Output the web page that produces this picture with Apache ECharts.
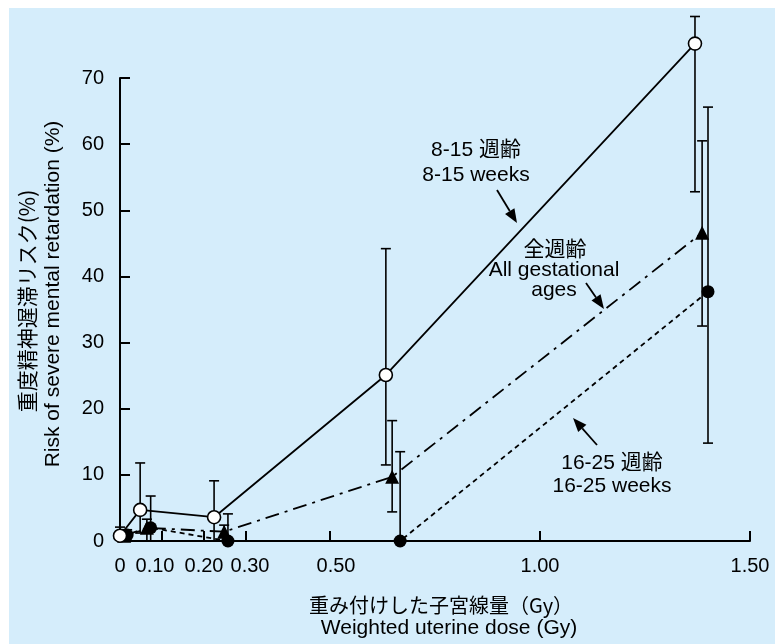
<!DOCTYPE html>
<html><head><meta charset="utf-8">
<script src="https://cdn.jsdelivr.net/npm/echarts@6/dist/echarts.min.js"></script>
<style>html,body{margin:0;padding:0;background:#fff;}#c{width:775px;height:644px;}</style>
</head><body><div id="c"></div>
<script>
// ---- data ----
const xTickValues = [0, 0.1, 0.2, 0.3, 0.5, 1.0, 1.5];
const xTickLabels = ['0', '0.10', '0.20', '0.30', '0.50', '1.00', '1.50'];
const yTickValues = [0, 10, 20, 30, 40, 50, 60, 70];

// 8-15 weeks (open circles, solid line)
const doseWk8to15 = [0, 0.048, 0.224, 0.633, 1.369];
const riskWk8to15 = [0.8, 4.7, 3.6, 25.1, 75.2];
const lowWk8to15  = [0, 1.2, 0, 11.5, 52.8];
const highWk8to15 = [2.1, 11.8, 9.1, 44.2, 79.3];

// all gestational ages (triangles, dash-dot line)
const doseAll = [0.01, 0.064, 0.248, 0.648, 1.386];
const riskAll = [0.8, 2.0, 1.4, 9.7, 46.6];
const lowAll  = [0, 0, 0, 4.4, 32.5];
const highAll = [1.7, 3.3, 2.4, 18.2, 60.5];

// 16-25 weeks (filled circles, dashed line)
const doseWk16to25 = [0.017, 0.073, 0.257, 0.667, 1.40];
const riskWk16to25 = [0.9, 2.0, 0, 0, 37.7];
const lowWk16to25  = [0, 0, 0, 0, 14.8];
const highWk16to25 = [1.7, 6.8, 4.1, 13.5, 65.6];

// ---- chart ----
const FONT = '"Liberation Sans", Arial, "Noto Sans CJK JP", sans-serif';
const JFONT = '"Noto Sans CJK JP", "Liberation Sans", sans-serif';
const chart = echarts.init(document.getElementById('c'), null, {renderer: 'canvas'});

function pairs(xs, ys) { return xs.map((x, i) => [x, ys[i]]); }

function errorSeries(xs, lo, hi) {
  return {
    type: 'custom', clip: false, z: 2, silent: true,
    data: xs.map((x, i) => [x, lo[i], hi[i]]),
    renderItem(params, api) {
      const x = api.value(0);
      const pLo = api.coord([x, api.value(1)]);
      const pHi = api.coord([x, api.value(2)]);
      const w = 5;
      const st = {stroke: '#000', lineWidth: 1.6};
      const ch = [
        {type: 'line', shape: {x1: pLo[0], y1: pLo[1], x2: pHi[0], y2: pHi[1]}, style: st},
        {type: 'line', shape: {x1: pHi[0] - w, y1: pHi[1], x2: pHi[0] + w, y2: pHi[1]}, style: st}
      ];
      if (api.value(1) > 0) ch.push({type: 'line', shape: {x1: pLo[0] - w, y1: pLo[1], x2: pLo[0] + w, y2: pLo[1]}, style: st});
      return {type: 'group', children: ch};
    }
  };
}

function arrow(x1, y1, x2, y2) {
  const a = Math.atan2(y2 - y1, x2 - x1), L = 14, W = 5.5;
  const c = Math.cos(a), s = Math.sin(a);
  const bx = x2 - L * c, by = y2 - L * s;
  return [
    {type: 'line', shape: {x1, y1, x2: bx, y2: by}, style: {stroke: '#000', lineWidth: 1.8}, z: 10},
    {type: 'polygon', shape: {points: [[x2, y2], [bx - W * s, by + W * c], [bx + W * s, by - W * c]]}, style: {fill: '#000'}, z: 10}
  ];
}

function txt(t, x, y, font, size) {
  return {type: 'text', x, y, z: 10, style: {text: t, fill: '#000', font: size + 'px ' + font, textAlign: 'center', textVerticalAlign: 'middle'}};
}

// label nudges (styling only), matching the spread-out low-dose labels of the original
const lab = {color: '#000', fontSize: 20, fontFamily: FONT};
const xRich = {
  n: Object.assign({}, lab),
  l7: Object.assign({padding: [0, 14, 0, 0]}, lab),
  r4: Object.assign({padding: [0, 0, 0, 8]}, lab),
  r6: Object.assign({padding: [0, 0, 0, 12]}, lab)
};
const xRichKey = {'0.10': 'l7', '0.30': 'r4', '0.50': 'r6'};

const option = {
  backgroundColor: '#fff',
  animation: false,
  grid: {left: 120, right: 25, top: 78, bottom: 103, containLabel: false},
  xAxis: {
    type: 'value', min: 0, max: 1.5,
    axisLine: {show: true, lineStyle: {color: '#000', width: 2}},
    axisTick: {show: true, inside: true, length: 10, lineStyle: {color: '#000', width: 2}, customValues: xTickValues.slice(1)},
    axisLabel: {
      customValues: xTickValues, margin: 15, color: '#000', fontSize: 20, fontFamily: FONT, rich: xRich,
      formatter: v => {
        const i = xTickValues.findIndex(t => Math.abs(t - v) < 1e-9);
        if (i < 0) return '';
        const s = xTickLabels[i];
        return '{' + (xRichKey[s] || 'n') + '|' + s + '}';
      }
    },
    splitLine: {show: false}
  },
  yAxis: {
    type: 'value', min: 0, max: 70, interval: 10,
    axisLine: {show: true, lineStyle: {color: '#000', width: 2}},
    axisTick: {show: true, inside: true, length: 10, lineStyle: {color: '#000', width: 2}, customValues: yTickValues.slice(1)},
    axisLabel: {customValues: yTickValues, margin: 16, color: '#000', fontSize: 20, fontFamily: FONT},
    splitLine: {show: false}
  },
  graphic: [
    {type: 'rect', shape: {x: 9, y: 8, width: 766, height: 636}, style: {fill: '#d5edfb'}, z: -100, silent: true},
    txt('重み付けした子宮線量（Gy）', 441, 605, JFONT, 20),
    txt('Weighted uterine dose (Gy)', 449, 628, FONT, 21),
    {type: 'text', x: 27, y: 301, rotation: Math.PI / 2, z: 10,
      style: {text: '重度精神遅滞リスク(%)', fill: '#000', font: '21px ' + JFONT, textAlign: 'center', textVerticalAlign: 'middle'}},
    {type: 'text', x: 53, y: 294, rotation: Math.PI / 2, z: 10,
      style: {text: 'Risk of severe mental retardation (%)', fill: '#000', font: '21px ' + FONT, textAlign: 'center', textVerticalAlign: 'middle'}},
    txt('8-15 週齢', 476, 150, FONT, 21),
    txt('8-15 weeks', 476, 175, FONT, 21),
    txt('全週齢', 555, 250, FONT, 21),
    txt('All gestational', 554, 270, FONT, 21),
    txt('ages', 554, 290, FONT, 21),
    txt('16-25 週齢', 612, 463, FONT, 21),
    txt('16-25 weeks', 612, 486, FONT, 21),
    ...arrow(497, 190, 517, 223),
    ...arrow(586, 283, 604, 309),
    ...arrow(597, 445, 573, 418)
  ],
  series: [
    errorSeries(doseWk8to15, lowWk8to15, highWk8to15),
    errorSeries(doseAll, lowAll, highAll),
    errorSeries(doseWk16to25, lowWk16to25, highWk16to25),
    {
      type: 'line', data: pairs(doseWk16to25, riskWk16to25), clip: false, z: 3,
      symbol: 'circle', symbolSize: 13,
      lineStyle: {color: '#000', width: 1.8, type: [5, 4]},
      itemStyle: {color: '#000', borderColor: '#000', borderWidth: 0}
    },
    {
      type: 'line', data: pairs(doseAll, riskAll), clip: false, z: 4,
      symbol: 'triangle', symbolSize: 14,
      lineStyle: {color: '#000', width: 1.8, type: [14, 6, 3, 6]},
      itemStyle: {color: '#000', borderColor: '#000', borderWidth: 0}
    },
    {
      type: 'line', data: pairs(doseWk8to15, riskWk8to15), clip: false, z: 5,
      symbol: 'circle', symbolSize: 13,
      lineStyle: {color: '#000', width: 1.8},
      itemStyle: {color: '#fff', borderColor: '#000', borderWidth: 1.6}
    }
  ]
};
chart.setOption(option);
</script>
</body></html>
